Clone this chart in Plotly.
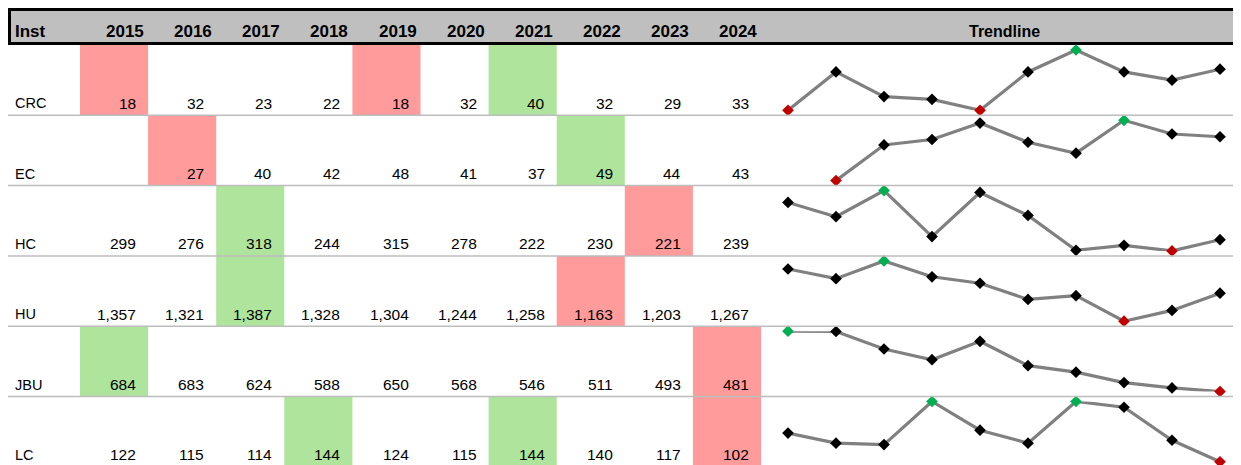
import plotly.graph_objects as go

years = ["2015", "2016", "2017", "2018", "2019", "2020", "2021", "2022", "2023", "2024"]
insts = ["CRC", "EC", "HC", "HU", "JBU", "LC"]
crc = [18, 32, 23, 22, 18, 32, 40, 32, 29, 33]
ec = [None, 27, 40, 42, 48, 41, 37, 49, 44, 43]
hc = [299, 276, 318, 244, 315, 278, 222, 230, 221, 239]
hu = [1357, 1321, 1387, 1328, 1304, 1244, 1258, 1163, 1203, 1267]
jbu = [684, 683, 624, 588, 650, 568, 546, 511, 493, 481]
lc = [122, 115, 114, 144, 124, 115, 144, 140, 117, 102]
series = [crc, ec, hc, hu, jbu, lc]
header_first = "Inst"
header_trend = "Trendline"

# layout geometry (screen pixels; page body has an 8px margin)
OFF = 8
SW, SH = 1241, 465
FW, FH = SW - OFF, SH - OFF
LEFT = 9.5
COL0 = 80
COLW = 68.1
HDR_TOP, HDR_BOT = 9.5, 43.5
ROW0 = 45
ROWH = 70.3
TREND_X0 = COL0 + COLW * len(years)
SP_X0, SP_X1 = 788, 1220
RED = "#FF9B9B"
GREEN = "#AFE49D"
FONT = "Liberation Sans"

def col_left(c):
    return COL0 + COLW * c

def row_top(r):
    return ROW0 + ROWH * r

def px(x):
    return (x - OFF) / FW

def py(y):
    return 1 - (y - OFF) / FH

fig = go.Figure()
shapes = []
annotations = []

# header
hdr_mid = (HDR_TOP + HDR_BOT) / 2 + 4.5
shapes.append(dict(type="rect", xref="x", yref="y", x0=LEFT, x1=SW + 10, y0=HDR_TOP, y1=HDR_BOT,
                   fillcolor="#BFBFBF", line=dict(color="black", width=3), layer="below"))
annotations.append(dict(x=LEFT + 3.5, y=hdr_mid, xref="x", yref="y", text=header_first,
                        showarrow=False, xanchor="left", yanchor="middle",
                        font=dict(family=FONT, size=17, color="black", weight="bold")))
for c, yr in enumerate(years):
    annotations.append(dict(x=col_left(c + 1) - 2, y=hdr_mid, xref="x", yref="y",
                            text=yr, showarrow=False, xanchor="right", yanchor="middle",
                            font=dict(family=FONT, size=17, color="black", weight="bold")))
annotations.append(dict(x=(TREND_X0 + SW) / 2 + 3, y=hdr_mid, xref="x", yref="y",
                        text=header_trend, showarrow=False, xanchor="center", yanchor="middle",
                        font=dict(family=FONT, size=16, color="black", weight="bold")))

# rows
for r, (name, vals) in enumerate(zip(insts, series)):
    valid = [v for v in vals if v is not None]
    vmin, vmax = min(valid), max(valid)
    top = row_top(r)
    bot = row_top(r + 1)
    for c, v in enumerate(vals):
        if v is None:
            continue
        if v == vmax or v == vmin:
            shapes.append(dict(type="rect", xref="x", yref="y", x0=col_left(c), x1=col_left(c + 1),
                               y0=top, y1=bot, fillcolor=GREEN if v == vmax else RED,
                               line=dict(width=0), layer="below"))
        annotations.append(dict(x=col_left(c + 1) - 10, y=bot - 12, xref="x", yref="y",
                                text=f"{v:,}", showarrow=False, xanchor="right", yanchor="middle",
                                font=dict(family=FONT, size=15.5, color="black")))
    annotations.append(dict(x=LEFT + 3, y=bot - 12, xref="x", yref="y", text=name, showarrow=False,
                            xanchor="left", yanchor="middle",
                            font=dict(family=FONT, size=14.5, color="black")))
    if r < len(insts) - 1:
        shapes.append(dict(type="line", xref="x", yref="y", x0=OFF, x1=SW, y0=bot, y1=bot,
                           line=dict(color="#BDBDBD", width=1.5)))

    # sparkline
    idx = r + 2
    ydom = [py(bot - 5), py(top + 5)]
    colors = []
    for v in vals:
        if v is None:
            colors.append("black")
        elif v == vmax:
            colors.append("#00B050")
        elif v == vmin:
            colors.append("#C00000")
        else:
            colors.append("black")
    fig.add_trace(go.Scatter(x=list(range(len(years))), y=vals, mode="lines+markers",
                             line=dict(color="#808080", width=3.2),
                             marker=dict(symbol="diamond", size=9, color=colors, line=dict(width=0)),
                             cliponaxis=False, connectgaps=False, hoverinfo="skip",
                             xaxis=f"x{idx}", yaxis=f"y{idx}", showlegend=False))
    fig.update_layout(**{
        f"xaxis{idx}": dict(domain=[px(SP_X0), px(SP_X1)], range=[0, len(years) - 1], visible=False,
                            anchor=f"y{idx}", fixedrange=True),
        f"yaxis{idx}": dict(domain=ydom, range=[vmin, vmax], visible=False, anchor=f"x{idx}",
                            fixedrange=True),
    })

# invisible trace on main axes
fig.add_trace(go.Scatter(x=[OFF, SW], y=[OFF, SH], mode="markers", marker=dict(opacity=0),
                         hoverinfo="skip", showlegend=False))

fig.update_layout(
    width=FW, height=FH,
    margin=dict(l=0, r=0, t=0, b=0),
    paper_bgcolor="white", plot_bgcolor="white",
    xaxis=dict(domain=[0, 1], range=[OFF, SW], visible=False, fixedrange=True),
    yaxis=dict(domain=[0, 1], range=[SH, OFF], visible=False, fixedrange=True),
    shapes=shapes,
    annotations=annotations,
    showlegend=False,
)

fig.write_html("out.html")
